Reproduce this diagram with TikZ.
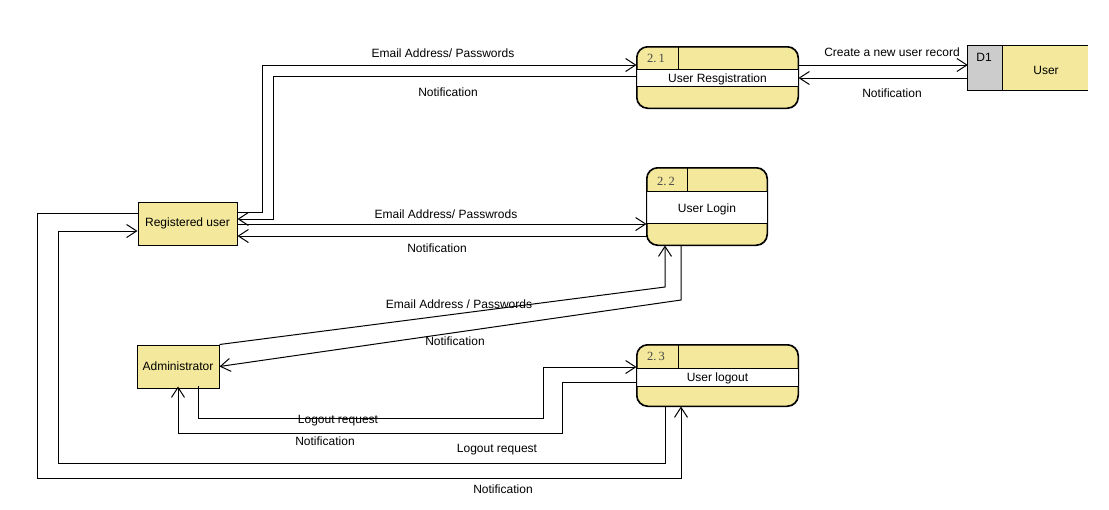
\documentclass[tikz,border=0pt]{standalone}
\usepackage{fontspec}
\setmainfont{Liberation Sans}
\newfontfamily\numfont{Liberation Serif}
\usetikzlibrary{arrows.meta,calc}
\definecolor{dfdyellow}{RGB}{243,232,155}
\definecolor{dfdgray}{RGB}{204,204,204}
\definecolor{numgray}{RGB}{70,70,70}
\tikzset{
  lbl/.style={inner sep=0pt, font=\fontsize{12}{14}\selectfont},
  ent/.style={draw, fill=dfdyellow, line width=1pt, inner sep=0pt, font=\fontsize{12}{14}\selectfont},
  procfill/.style={draw, fill=dfdyellow, rounded corners=11pt, line width=1pt, inner sep=0pt},
  numlbl/.style={inner sep=0pt, text=numgray, font=\numfont\fontsize{12.5}{14}\selectfont},
  flow/.style={line width=1pt, -{Straight Barb[length=10pt,width=13pt,line width=1pt]}},
}
\begin{document}
\begin{tikzpicture}[x=1pt,y=-1pt]
\useasboundingbox (0,0) rectangle (1109,509);
% ---------- processes ----------
% 2.1
\node[procfill, minimum width=161pt, minimum height=61pt] (p21) at (717.5,77.5) {};
\fill[white] ([xshift=0.5pt]p21.west |- 0,69) rectangle ([xshift=-0.5pt]p21.east |- 0,86);
\draw[line width=1pt] (p21.west |- 0,69) -- (p21.east |- 0,69);
\draw[line width=1pt] (p21.west |- 0,86) -- (p21.east |- 0,86);
\draw[line width=1pt] ([xshift=42pt]p21.north west) -- ([xshift=42pt]p21.north west |- 0,69);
\draw[line width=1pt, rounded corners=11pt] (p21.south west) rectangle (p21.north east);
\node[numlbl] (n21) at (656,58) {2.\,1};
\node[lbl] (t21) at (717.5,79) {User Resgistration};
% 2.2
\node[procfill, minimum width=120pt, minimum height=77pt] (p22) at (707,206.5) {};
\fill[white] ([xshift=0.5pt]p22.west |- 0,191) rectangle ([xshift=-0.5pt]p22.east |- 0,223);
\draw[line width=1pt] (p22.west |- 0,191) -- (p22.east |- 0,191);
\draw[line width=1pt] (p22.west |- 0,223) -- (p22.east |- 0,223);
\draw[line width=1pt] ([xshift=41pt]p22.north west) -- ([xshift=41pt]p22.north west |- 0,191);
\draw[line width=1pt, rounded corners=11pt] (p22.south west) rectangle (p22.north east);
\node[numlbl] (n22) at (666,181) {2.\,2};
\node[lbl] (t22) at (707,209) {User Login};
% 2.3
\node[procfill, minimum width=161pt, minimum height=61pt] (p23) at (717.5,375.5) {};
\fill[white] ([xshift=0.5pt]p23.west |- 0,368) rectangle ([xshift=-0.5pt]p23.east |- 0,386);
\draw[line width=1pt] (p23.west |- 0,368) -- (p23.east |- 0,368);
\draw[line width=1pt] (p23.west |- 0,386) -- (p23.east |- 0,386);
\draw[line width=1pt] ([xshift=42pt]p23.north west) -- ([xshift=42pt]p23.north west |- 0,368);
\draw[line width=1pt, rounded corners=11pt] (p23.south west) rectangle (p23.north east);
\node[numlbl] (n23) at (656,356) {2.\,3};
\node[lbl] (t23) at (717.5,378) {User logout};
% ---------- data store ----------
\node[inner sep=0pt, minimum width=120pt, minimum height=44pt] (d1) at (1028,68) {};
\fill[dfdyellow] (d1.north west) rectangle (d1.south east);
\fill[dfdgray] (d1.north west) rectangle ([xshift=35pt]d1.south west);
\draw[line width=1pt] (d1.north east) -- (d1.north west) -- (d1.south west) -- (d1.south east);
\draw[line width=1pt] ([xshift=35pt]d1.north west) -- ([xshift=35pt]d1.south west);
\node[lbl] (d1id) at (984,57) {D1};
\node[lbl] (d1n) at (1046,70) {User};
% ---------- entities ----------
\node[ent, minimum width=99pt, minimum height=43pt] (ru) at (187.5,223.5) {Registered user};
\node[ent, minimum width=82pt, minimum height=43pt] (ad) at (178,366.5) {Administrator};
% ---------- flows: registration ----------
\draw[flow] (ru.east |- 0,212) -- (262,212) -- (262,65) -- (p21.west |- 0,65);
\draw[flow] (p21.west |- 0,76) -- (273,76) -- (273,219) -- (ru.east |- 0,219);
\node[lbl] (l1) at (443,53) {Email Address/ Passwords};
\node[lbl] (l2) at (448,92) {Notification};
\draw[flow] (p21.east |- 0,65) -- (d1.west |- 0,65);
\draw[flow] (d1.west |- 0,78) -- (p21.east |- 0,78);
\node[lbl] (l3) at (892,52) {Create a new user record};
\node[lbl] (l4) at (892,93) {Notification};
% ---------- flows: login ----------
\draw[flow] (ru.east |- 0,224) -- (p22.west |- 0,224);
\draw[flow] (p22.west |- 0,236) -- (ru.east |- 0,236);
\node[lbl] (l5) at (446,214) {Email Address/ Passwrods};
\node[lbl] (l6) at (437,248) {Notification};
\draw[flow] (ad.north east) -- (665,287) -- (p22.south -| 665,0);
\draw[flow] (p22.south -| 681,0) -- (681,300) -- (ad.east);
\node[lbl] (l7) at (459,304) {Email Address / Passwords};
\node[lbl] (l8) at (455,341) {Notification};
% ---------- flows: logout ----------
\draw[flow] ([yshift=3pt]ad.south -| 198,0) -- (198,418) -- (543,418) -- (543,367) -- (p23.west |- 0,367);
\draw[flow] (p23.west |- 0,382) -- (562,382) -- (562,433) -- (178,433) -- ([yshift=2pt]ad.south);
\node[lbl] (l9) at (338,421) {Logout request};
\node[lbl] (l10) at (325,441) {Notification};
\draw[flow] (ru.west |- 0,213) -- (37,213) -- (37,478) -- (681,478) -- (p23.south -| 681,0);
\draw[flow] (p23.south -| 665,0) -- (665,463) -- (58,463) -- (58,231) -- (ru.west |- 0,231);
\node[lbl] (l11) at (497,450) {Logout request};
\node[lbl] (l12) at (503,489) {Notification};
\end{tikzpicture}
\end{document}
